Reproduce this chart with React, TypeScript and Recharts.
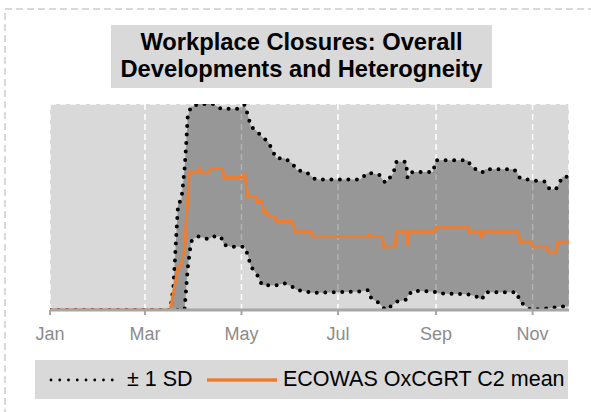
import { ComposedChart, Area, Line, XAxis, YAxis, CartesianGrid } from 'recharts';

// days since 1 Jan 2020
const monthTicks = [0, 60, 121, 182, 244, 305];
const monthLabels = ['Jan', 'Mar', 'May', 'Jul', 'Sep', 'Nov'];
const yTicks = [0, 1, 2, 3];

const sdDays = [
  0, 76, 78, 80, 81, 83, 85, 86, 87, 89, 90, 94, 100, 103, 106, 108, 110, 114, 119, 123,
  125, 127, 131, 134, 138, 140, 143, 148, 153, 156, 162, 165, 168, 196, 201, 203, 208, 212,
  217, 219, 225, 226, 229, 242, 244, 246, 264, 266, 269, 273, 275, 293, 295, 297, 304, 313,
  316, 320, 324, 328,
];
const sdLower = [
  0, 0, 0, 0, 0, 0, 0, 0.29, 0.6, 0.97, 1.03, 1.07, 1.03, 1.07, 1.07, 1.07, 0.95, 0.92, 0.92, 0.92,
  0.8, 0.63, 0.51, 0.36, 0.36, 0.36, 0.36, 0.39, 0.34, 0.29, 0.27, 0.25, 0.25, 0.27, 0.29, 0.17, 0.1, 0,
  0.08, 0.12, 0.15, 0.2, 0.28, 0.27, 0.26, 0.24, 0.23, 0.22, 0.2, 0.15, 0.26, 0.26, 0.26, 0.12, 0, 0.02,
  0.03, 0.04, 0.05, 0.05,
];
const sdUpper = [
  0, 0, 0.34, 1.16, 1.55, 1.6, 2.04, 2.38, 2.81, 2.96, 2.96, 3.0, 3.0, 3.0, 2.96, 2.93, 2.93, 2.93, 2.93, 2.99,
  2.84, 2.67, 2.6, 2.52, 2.45, 2.35, 2.21, 2.21, 2.14, 2.04, 2.01, 1.95, 1.9, 1.9, 2.0, 1.99, 1.97, 1.85,
  1.99, 2.16, 2.16, 1.92, 2.01, 2.01, 2.18, 2.18, 2.18, 2.1, 2.05, 2.0, 2.05, 2.05, 2.01, 1.92, 1.89, 1.87,
  1.75, 1.77, 1.94, 1.94,
];

const meanDays = [
  0, 76, 81, 83, 84, 85, 88, 93, 95, 96, 100, 102, 109, 110, 122, 123, 125, 130, 131, 134, 135, 137,
  138, 142, 143, 153, 155, 165, 166, 201, 202, 203, 210, 211, 218, 219, 225, 226, 227, 243, 244,
  264, 265, 272, 273, 274, 296, 297, 304, 305, 314, 315, 320, 321, 328,
];
const meanValues = [
  0, 0, 0.63, 0.65, 0.8, 0.85, 2.01, 2.01, 2.06, 2.0, 2.0, 2.06, 2.06, 1.93, 1.93, 2.0, 1.65, 1.65, 1.58, 1.58, 1.43, 1.43,
  1.36, 1.36, 1.29, 1.29, 1.14, 1.14, 1.07, 1.07, 1.1, 1.07, 1.07, 0.92, 0.92, 1.14, 1.14, 0.95, 1.14, 1.14, 1.21,
  1.21, 1.14, 1.14, 1.05, 1.14, 1.14, 0.99, 0.99, 0.92, 0.92, 0.84, 0.84, 0.99, 0.99,
];

const sdData = sdDays.map((day, i) => ({ day, lo: sdLower[i], hi: sdUpper[i] }));
const meanData = meanDays.map((day, i) => ({ day, mean: meanValues[i] }));

const FONT = '"Liberation Sans", Arial, sans-serif';
const ORANGE = '#ED7D31';
const AXIS = '#a6a6a6';

function LegendBox() {
  return (
    <div
      style={{
        position: 'absolute',
        left: 35,
        top: 360,
        width: 533,
        height: 39,
        background: '#d9d9d9',
        fontFamily: FONT,
        fontSize: 21.5,
        color: '#000',
      }}
    >
      <svg width={533} height={39} style={{ position: 'absolute', left: 0, top: 0 }}>
        <line x1={16} y1={20} x2={86} y2={20} stroke="#000" strokeWidth={2.8} strokeDasharray="0 8.75" strokeLinecap="round" />
        <line x1={172} y1={20} x2={242} y2={20} stroke={ORANGE} strokeWidth={3.5} />
      </svg>
      <span style={{ position: 'absolute', left: 92, top: 7, lineHeight: '24px', whiteSpace: 'nowrap' }}>± 1 SD</span>
      <span style={{ position: 'absolute', left: 248, top: 7, lineHeight: '24px', whiteSpace: 'nowrap' }}>
        ECOWAS OxCGRT C2 mean
      </span>
    </div>
  );
}

export default function App() {
  return (
    <div style={{ position: 'absolute', left: 0, top: 0, width: 591, height: 412, overflow: 'hidden', background: '#fff' }}>
      <svg width={591} height={412} style={{ position: 'absolute', left: 0, top: 0 }}>
        <rect x={5} y={9} width={640} height={460} fill="none" stroke="#d9d9d9" strokeWidth={2} strokeDasharray="7 4" />
      </svg>
      <div
        style={{
          position: 'absolute',
          left: 111,
          top: 25,
          width: 381,
          height: 63,
          background: '#d9d9d9',
          fontFamily: FONT,
          fontWeight: 'bold',
          fontSize: 23.7,
          lineHeight: '27px',
          textAlign: 'center',
          paddingTop: 4,
          boxSizing: 'border-box',
          color: '#000',
        }}
      >
        Workplace Closures: Overall
        <br />
        Developments and Heterogneity
      </div>
      <div style={{ position: 'absolute', left: 0, top: 0 }}>
        <ComposedChart width={591} height={412} data={sdData} margin={{ top: 104, right: 22, left: 50, bottom: 72 }}>
          <CartesianGrid fill="#d9d9d9" fillOpacity={1} stroke="#fff" strokeWidth={1.5} strokeDasharray="6 4" />
          <XAxis
            dataKey="day"
            type="number"
            domain={[0, 328]}
            ticks={monthTicks}
            tickFormatter={(v: number) => monthLabels[monthTicks.indexOf(v)] ?? ''}
            height={30}
            tickSize={5}
            tickMargin={12}
            axisLine={{ stroke: AXIS, strokeWidth: 3 }}
            tickLine={{ stroke: AXIS, strokeWidth: 2 }}
            tick={{ fill: '#8c8c8c', fontSize: 18, fontFamily: FONT }}
            allowDataOverflow
          />
          <YAxis
            type="number"
            domain={[0, 3]}
            ticks={yTicks}
            width={0}
            tick={false}
            tickSize={4}
            axisLine={{ stroke: AXIS, strokeWidth: 3 }}
            tickLine={{ stroke: AXIS, strokeWidth: 2 }}
            allowDataOverflow
          />
          <Area
            data={sdData}
            dataKey={(d: { lo: number; hi: number }) => [d.lo, d.hi]}
            type="linear"
            fill="#000"
            fillOpacity={0.3}
            stroke="none"
            isAnimationActive={false}
          />
          <Line
            data={sdData}
            dataKey="hi"
            type="linear"
            stroke="#000"
            strokeWidth={4}
            strokeDasharray="0 8.5"
            strokeLinecap="round"
            dot={false}
            isAnimationActive={false}
          />
          <Line
            data={sdData}
            dataKey="lo"
            type="linear"
            stroke="#000"
            strokeWidth={4}
            strokeDasharray="0 8.5"
            strokeLinecap="round"
            dot={false}
            isAnimationActive={false}
          />
          <Line
            data={meanData}
            dataKey="mean"
            type="linear"
            stroke={ORANGE}
            strokeWidth={3}
            dot={false}
            isAnimationActive={false}
          />
        </ComposedChart>
      </div>
      <LegendBox />
    </div>
  );
}
